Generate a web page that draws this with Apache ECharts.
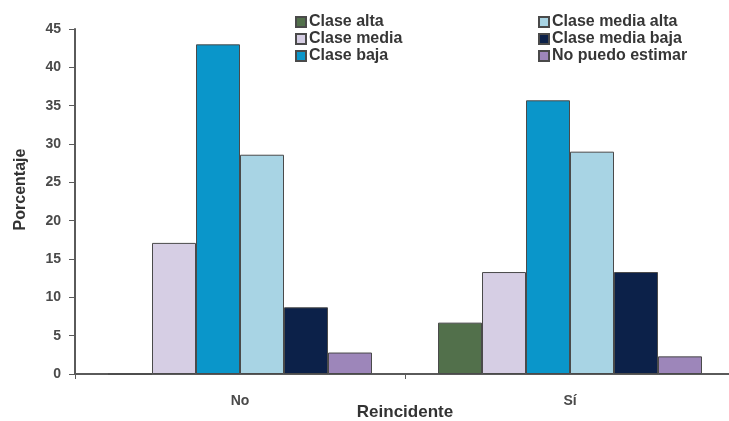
<!DOCTYPE html>
<html><head><meta charset="utf-8">
<script src="https://cdn.jsdelivr.net/npm/echarts@6/dist/echarts.min.js"></script>
<style>html,body{margin:0;padding:0;background:#fff}#c{width:729px;height:421px}</style>
</head><body><div id="c"></div>
<script>
const categories = ['No', 'Sí'];
const seriesNames = ['Clase alta', 'Clase media', 'Clase baja', 'Clase media alta', 'Clase media baja', 'No puedo estimar'];
const claseAlta = [0, 6.7];
const claseMedia = [17.1, 13.3];
const claseBaja = [43.0, 35.7];
const claseMediaAlta = [28.6, 29.0];
const claseMediaBaja = [8.7, 13.3];
const noPuedoEstimar = [2.8, 2.3];
const yTicks = [0, 5, 10, 15, 20, 25, 30, 35, 40, 45];

const values = [claseAlta, claseMedia, claseBaja, claseMediaAlta, claseMediaBaja, noPuedoEstimar];
const colors = ['#52704b', '#d6cee4', '#0a96ca', '#a8d4e4', '#0c2149', '#9d86ba'];
const font = 'Liberation Sans, Arial, sans-serif';

const legendBase = {
  orient: 'vertical', top: 9, itemWidth: 10, itemHeight: 10, itemGap: 1, icon: 'rect',
  textStyle: { fontSize: 16, fontWeight: 'bold', color: '#363636', fontFamily: font, padding: [0, 0, 0, -2] }
};

const chart = echarts.init(document.getElementById('c'));
chart.setOption({
  animation: false,
  textStyle: { fontFamily: font },
  grid: { left: 75, right: -6, top: 29, bottom: 47, containLabel: false, outerBoundsMode: 'none' },
  legend: [
    Object.assign({}, legendBase, { data: seriesNames.slice(0, 3), left: 290 }),
    Object.assign({}, legendBase, { data: seriesNames.slice(3), left: 533 })
  ],
  xAxis: {
    type: 'category', data: categories,
    name: 'Reincidente', nameLocation: 'middle', nameGap: 30, nameMoveOverlap: false,
    nameTextStyle: { fontSize: 17, fontWeight: 'bold', color: '#333' },
    axisLine: { lineStyle: { color: '#5a5a5a', width: 2 } },
    axisTick: { show: true, length: 5, lineStyle: { color: '#5a5a5a' } },
    axisLabel: { fontSize: 14, fontWeight: 'bold', color: '#4a4a4a', margin: 20 }
  },
  yAxis: {
    type: 'value', min: yTicks[0], max: yTicks[yTicks.length - 1], interval: 5,
    name: 'Porcentaje', nameLocation: 'middle', nameGap: 46, nameMoveOverlap: false,
    nameTextStyle: { fontSize: 16, fontWeight: 'bold', color: '#333', padding: [0, 0, 0, 24] },
    axisLine: { show: true, lineStyle: { color: '#5a5a5a', width: 2 } },
    axisTick: { show: true, length: 6, lineStyle: { color: '#5a5a5a' } },
    axisLabel: { fontSize: 14, fontWeight: 'bold', color: '#4a4a4a', margin: 14 },
    splitLine: { show: false }
  },
  series: seriesNames.map((n, i) => ({
    name: n, type: 'bar', data: values[i],
    barGap: '0%', barCategoryGap: '20%',
    itemStyle: { color: colors[i], borderColor: '#4a4a4a', borderWidth: 1 }
  }))
});
</script></body></html>
